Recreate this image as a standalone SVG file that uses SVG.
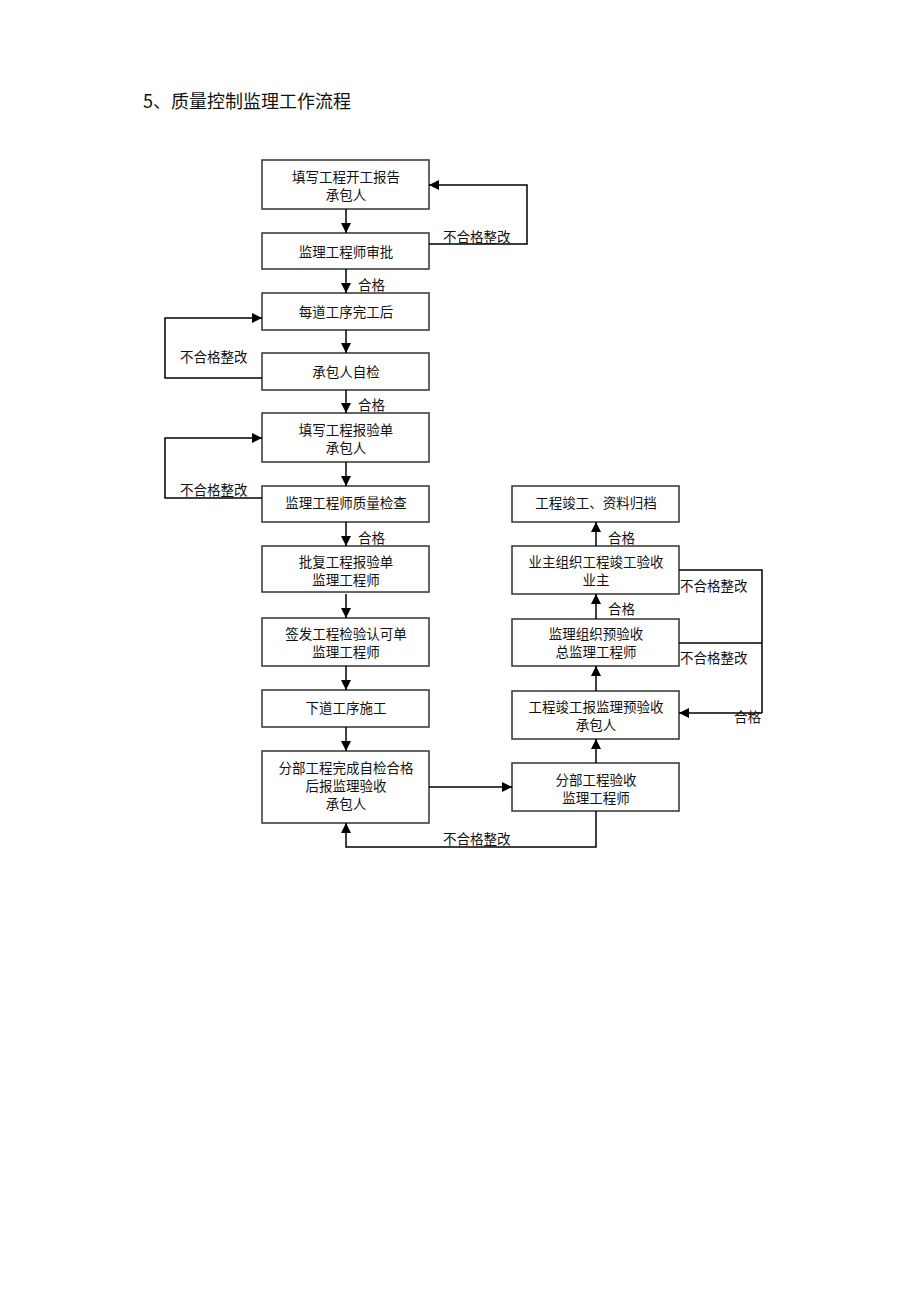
<svg xmlns="http://www.w3.org/2000/svg" width="920" height="1300" viewBox="0 0 920 1300">
<defs>
<marker id="ah" viewBox="0 0 10 10" refX="10" refY="5" markerWidth="10" markerHeight="10" markerUnits="userSpaceOnUse" orient="auto">
<path d="M0,0 L10,5 L0,10 z" fill="#000"/>
</marker>
<style>
.box{fill:#fff;stroke:#333;stroke-width:1.5}
.t{font-family:"Noto Sans CJK SC","Liberation Serif",sans-serif;font-size:13.5px;fill:#111;text-anchor:middle;dominant-baseline:central}
.l{font-family:"Noto Sans CJK SC","Liberation Serif",sans-serif;font-size:13.5px;fill:#111;dominant-baseline:central}
.c{fill:none;stroke:#000;stroke-width:1.5}
.a{fill:none;stroke:#000;stroke-width:1.5;marker-end:url(#ah)}
</style>
</defs>
<rect width="920" height="1300" fill="#fff"/>
<text x="143" y="100" style="font-family:'Noto Sans CJK SC','Liberation Serif',sans-serif;font-size:18px;fill:#111;dominant-baseline:central">5、质量控制监理工作流程</text>

<g id="n1"><rect class="box" x="262" y="160" width="167" height="49"/><text class="t" x="346" y="176">填写工程开工报告</text><text class="t" x="346" y="194">承包人</text></g>
<g id="n2"><rect class="box" x="262" y="233" width="167" height="36"/><text class="t" x="346" y="251">监理工程师审批</text></g>
<g id="n3"><rect class="box" x="262" y="293" width="167" height="37"/><text class="t" x="346" y="311">每道工序完工后</text></g>
<g id="n4"><rect class="box" x="262" y="353" width="167" height="37"/><text class="t" x="346" y="371">承包人自检</text></g>
<g id="n5"><rect class="box" x="262" y="413" width="167" height="49"/><text class="t" x="346" y="429">填写工程报验单</text><text class="t" x="346" y="447">承包人</text></g>
<g id="n6"><rect class="box" x="262" y="486" width="167" height="36"/><text class="t" x="346" y="502">监理工程师质量检查</text></g>
<g id="n7"><rect class="box" x="262" y="546" width="167" height="46"/><text class="t" x="346" y="561">批复工程报验单</text><text class="t" x="346" y="579">监理工程师</text></g>
<g id="n8"><rect class="box" x="262" y="618" width="167" height="48"/><text class="t" x="346" y="633">签发工程检验认可单</text><text class="t" x="346" y="651">监理工程师</text></g>
<g id="n9"><rect class="box" x="262" y="690" width="167" height="37"/><text class="t" x="346" y="707">下道工序施工</text></g>
<g id="n10"><rect class="box" x="262" y="751" width="167" height="72"/><text class="t" x="346" y="767">分部工程完成自检合格</text><text class="t" x="346" y="785">后报监理验收</text><text class="t" x="346" y="803">承包人</text></g>

<g id="r1"><rect class="box" x="512" y="486" width="167" height="36"/><text class="t" x="596" y="502">工程竣工、资料归档</text></g>
<g id="r2"><rect class="box" x="512" y="546" width="167" height="48"/><text class="t" x="596" y="561">业主组织工程竣工验收</text><text class="t" x="596" y="579">业主</text></g>
<g id="r3"><rect class="box" x="512" y="619" width="167" height="47"/><text class="t" x="596" y="633">监理组织预验收</text><text class="t" x="596" y="651">总监理工程师</text></g>
<g id="r4"><rect class="box" x="512" y="691" width="167" height="48"/><text class="t" x="596" y="706">工程竣工报监理预验收</text><text class="t" x="596" y="724">承包人</text></g>
<g id="r5"><rect class="box" x="512" y="763" width="167" height="48"/><text class="t" x="596" y="779">分部工程验收</text><text class="t" x="596" y="797">监理工程师</text></g>

<g id="connectors">
<line class="a" x1="346" y1="209" x2="346" y2="233"/>
<line class="a" x1="346" y1="269" x2="346" y2="293"/>
<line class="a" x1="346" y1="330" x2="346" y2="353"/>
<line class="a" x1="346" y1="390" x2="346" y2="413"/>
<line class="a" x1="346" y1="462" x2="346" y2="486"/>
<line class="a" x1="346" y1="522" x2="346" y2="546"/>
<line class="a" x1="346" y1="594" x2="346" y2="618"/>
<line class="a" x1="346" y1="666" x2="346" y2="690"/>
<line class="a" x1="346" y1="727" x2="346" y2="751"/>
<polyline class="a" points="429,244 527,244 527,185 429,185"/>
<polyline class="a" points="262,378 165,378 165,318 262,318"/>
<polyline class="a" points="262,498 165,498 165,438 262,438"/>
<line class="a" x1="429" y1="787" x2="512" y2="787"/>
<polyline class="a" points="596,811 596,847 346,847 346,823"/>
<line class="a" x1="596" y1="763" x2="596" y2="739"/>
<line class="a" x1="596" y1="691" x2="596" y2="666"/>
<line class="a" x1="596" y1="619" x2="596" y2="594"/>
<line class="a" x1="596" y1="546" x2="596" y2="522"/>
<polyline class="c" points="679,570 762,570 762,713"/>
<line class="c" x1="679" y1="643" x2="762" y2="643"/>
<line class="a" x1="762" y1="713" x2="679" y2="713"/>
</g>

<g id="labels">
<text class="l" x="443" y="236">不合格整改</text>
<text class="l" x="358" y="284">合格</text>
<text class="l" x="180" y="356">不合格整改</text>
<text class="l" x="358" y="404">合格</text>
<text class="l" x="180" y="489">不合格整改</text>
<text class="l" x="358" y="537">合格</text>
<text class="l" x="608" y="537">合格</text>
<text class="l" x="608" y="608">合格</text>
<text class="l" x="680" y="585">不合格整改</text>
<text class="l" x="680" y="657">不合格整改</text>
<text class="l" x="734" y="716">合格</text>
<text class="l" x="443" y="838">不合格整改</text>
</g>
</svg>
